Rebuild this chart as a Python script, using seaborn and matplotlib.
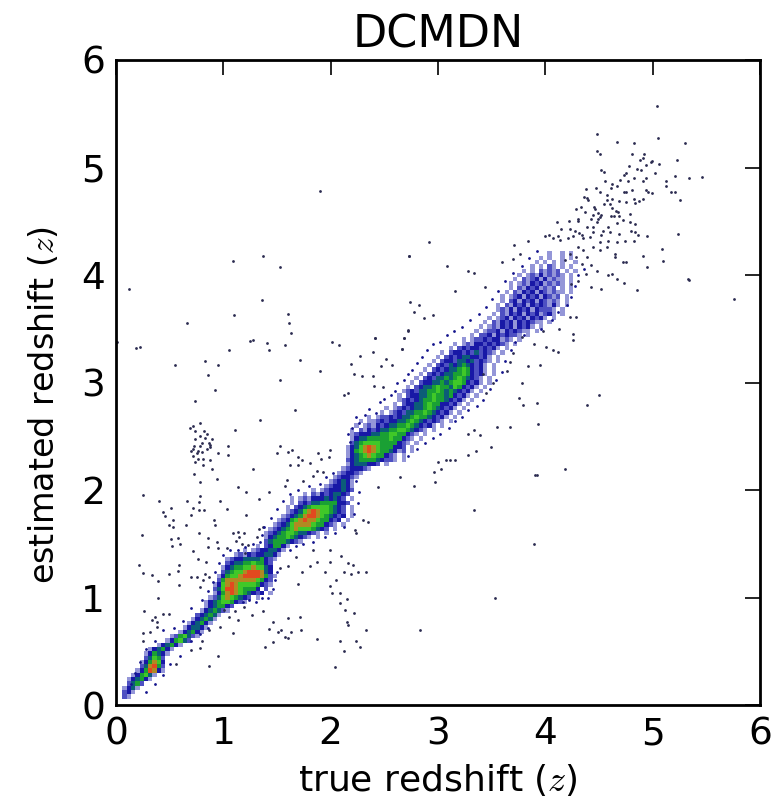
import numpy as np
import matplotlib
matplotlib.use('Agg')
import matplotlib.pyplot as plt
from matplotlib.colors import ListedColormap
import seaborn as sns

# density ridge: one entry per row, rows go from z=0.08 upward in 0.04 steps
# start = first column (x = col * 0.04), cells = density level per column
ROW_START = [2, 2, 2, 3, 3, 4, 5, 6, 6, 7, 7, 8, 10, 12, 13, 15, 16, 17, 18, 19, 20, 21, 21,
             22, 23, 23, 23, 24, 24, 25, 25, 26, 26, 28, 30, 33, 35, 35, 35, 36, 37, 38, 39, 40, 40,
             41, 41, 44, 46, 49, 50, 51, 52, 53, 54, 54, 54, 54, 54, 55, 55, 55, 55, 56, 57, 59,
             62, 63, 65, 66, 66, 67, 68, 69, 70, 71, 72, 73, 74, 75, 76, 78, 79, 81, 83, 84, 85,
             86, 87, 88, 89, 89, 90, 90, 91, 92, 92, 93, 94, 95, 97, 98, 99, 100]
ROW_CELLS = [
    "21", "231", "1341", "2452", "134531", "135641", "1358731", "247852", "135763", "24652",
    "135431", "134531", "134531", "135642", "1256421", "134531", "134431", "134531", "134541",
    "234541", "1345421", "1345532", "1345665321",
    "124676543201", "13578765432301", "2468876555302", "13678766665321", "2577777776532",
    "13566788887521", "245667888743", "134556676643", "23445565532", "123344445321",
    "12132334431", "1012334431", "10235531", "245554321", "1345565432101", "123456654432101",
    "1234567666543201", "12346777765532101", "12356787765532301", "12345788765432301",
    "1234678766543201", "1023456666543201", "10232445555332", "101213334343201",
    "10213234432", "1012333432", "1233431", "123431", "123321", "123321", "1233321",
    "1344433201", "23455554322101", "13456765532101", "1356787655431201", "1346787655533201",
    "2456666555532101", "13445555565532101", "123334455665532101", "10213234455665432101",
    "101213234455654323101", "1011232334456543232101", "101223234456554323101",
    "1012324455654323101", "1012323445654323101", "102334456553323101", "123234556554323101",
    "1023344565545323101", "1232445565454323101", "1023445655465323101", "1023344545665323101",
    "102324454565432101", "102323445565323101", "10232344565323101", "1023243454323101",
    "1023324434232101", "102323443323101", "102332324232101", "10232332323101",
    "101213323232101", "10122323312101", "10223132322101", "101223132321101", "101213231323101",
    "1021323132321101", "1012313231323101", "10213231323123101", "1213132313222101",
    "10213231323213101", "1023132313212101", "1012313231321201", "1021323132121101",
    "102132312120101", "101213231212101", "10212313121101", "1012131212101", "1010212120101",
    "1010210101", "1010101001", "10100101", "01001010",
]
LEVEL_COLORS = ['#ffffff', '#9496d8', '#4e50c2', '#1818a6', '#0c5c78', '#1aa034', '#40c828',
                '#b08a22', '#e2491f']

# single dots outside the dense ridge
TAIL_X = [4.48, 4.67, 4.83, 5.05, 5.30, 5.04, 4.48, 4.51, 4.81, 4.92, 4.88, 4.91, 4.99, 4.98, 5.06,
          5.23, 4.94, 4.85, 4.89, 5.02, 4.78, 4.75, 4.52, 4.55, 4.73, 5.21, 5.46, 5.34, 4.83, 4.94,
          4.70, 4.91, 4.56, 4.62, 4.77, 5.12, 5.12, 4.67, 4.61, 4.47, 4.38, 4.51, 4.73, 4.75, 4.81,
          4.94, 4.96, 5.17, 5.21, 4.99, 4.36, 4.39, 4.40, 4.57, 4.57, 4.62, 4.83, 4.87, 4.91, 5.25,
          4.69, 4.55, 4.60, 4.84, 4.75, 4.45, 4.33, 4.29, 4.37, 4.46, 4.49, 4.62, 4.66, 4.68, 4.79,
          4.52, 4.44, 4.51, 4.61, 4.64, 4.69, 4.30, 4.30, 4.11, 4.22, 4.43, 4.49, 4.72, 4.67, 4.48,
          4.79, 4.84, 4.58, 4.44, 4.39, 4.15, 4.23, 4.28, 4.31, 4.34, 4.44, 4.54, 4.60, 4.80, 4.84,
          4.69, 5.24, 4.95, 4.86, 4.03, 4.00, 4.07, 4.12, 4.14, 4.21, 4.26, 4.35, 4.42, 4.52, 4.67,
          4.58, 4.51, 4.74, 4.83, 3.84, 3.71, 5.09, 4.91, 5.10, 4.65, 4.65, 4.72, 4.75, 4.95, 4.58,
          4.62, 4.67, 4.73, 5.33, 4.43, 4.52, 4.85, 4.48, 4.43, 4.39, 4.51, 4.57, 4.44, 4.35, 4.30,
          4.23, 4.18, 4.29, 4.34, 4.38, 4.30, 4.24, 3.76, 3.60, 3.70]
TAIL_Y = [5.31, 5.24, 5.23, 5.27, 5.23, 5.57, 5.15, 5.13, 5.13, 5.13, 5.07, 5.09, 5.06, 5.05, 5.03,
          5.07, 5.02, 4.99, 4.98, 4.95, 5.01, 4.95, 4.98, 4.96, 4.93, 4.92, 4.91, 4.90, 4.90, 4.90,
          4.88, 4.87, 4.87, 4.85, 4.87, 4.87, 4.83, 4.83, 4.81, 4.81, 4.80, 4.77, 4.77, 4.77, 4.79,
          4.79, 4.77, 4.77, 4.77, 4.76, 4.73, 4.72, 4.70, 4.74, 4.70, 4.71, 4.71, 4.69, 4.71, 4.70,
          4.69, 4.66, 4.66, 4.67, 4.68, 4.63, 4.63, 4.61, 4.59, 4.61, 4.58, 4.62, 4.60, 4.59, 4.57,
          4.56, 4.56, 4.54, 4.55, 4.55, 4.55, 4.52, 4.50, 4.49, 4.50, 4.52, 4.52, 4.51, 4.48, 4.49,
          4.49, 4.47, 4.45, 4.45, 4.45, 4.43, 4.43, 4.41, 4.39, 4.37, 4.40, 4.41, 4.40, 4.41, 4.40,
          4.38, 4.38, 4.36, 4.37, 4.37, 4.36, 4.34, 4.36, 4.33, 4.34, 4.36, 4.34, 4.35, 4.37, 4.31,
          4.32, 4.31, 4.32, 4.32, 4.32, 4.28, 4.24, 4.18, 4.13, 4.20, 4.17, 4.12, 4.12, 4.07, 4.00,
          4.01, 3.96, 3.93, 3.96, 3.89, 3.87, 3.86, 4.04, 4.09, 4.17, 4.23, 4.26, 4.26, 4.23, 4.26,
          4.20, 4.14, 4.17, 4.10, 4.01, 3.94, 3.92, 4.20, 4.12, 4.15]

UPPER_X = [0.25, 0.40, 0.44, 0.51, 0.46, 0.66, 0.78, 0.77, 0.72, 0.82, 0.77, 0.70, 0.53, 0.49, 0.53,
           0.65, 0.24, 0.58, 0.51, 0.60, 0.52, 0.77, 0.86, 0.92, 0.91, 0.97, 1.03, 1.14, 1.21, 1.43,
           1.33, 1.21, 1.28, 0.73, 0.78, 0.94, 0.81, 0.89, 0.74, 0.88, 0.95, 1.04, 1.04, 0.81, 0.86,
           0.94, 0.72, 0.76, 0.84, 0.21, 0.59, 0.58, 0.25, 0.34, 0.49, 0.39, 0.59, 0.70, 0.75, 0.83,
           0.87, 0.81, 0.39, 0.78, 0.26, 0.36, 0.34, 0.38, 0.49, 0.44, 0.38, 0.25, 0.32, 0.25,
           1.09, 1.14, 1.19, 1.12, 1.17, 1.23, 1.03, 1.20, 1.31, 1.37, 1.33, 1.15, 0.95,
           1.50, 1.53, 1.60, 1.64, 1.70, 1.73, 1.62, 1.70, 1.81, 1.88, 1.91, 1.99, 1.98, 1.87, 1.84,
           1.93, 1.59, 1.57, 1.74,
           1.90, 1.09, 1.37, 1.53, 2.73, 0.12, 1.36, 1.10, 1.60, 0.66, 1.61, 1.63, 2.72, 2.41, 2.68,
           1.28, 1.41, 2.01, 0.19, 1.05, 2.66, 0.01, 0.22, 0.55, 0.83, 0.86, 0.95, 1.25, 1.43, 1.57,
           1.71, 1.90, 2.08, 1.53, 1.67, 1.34, 1.11, 0.92, 0.74,
           0.69, 0.72, 0.74, 0.78, 0.82, 0.85, 0.74, 0.78, 0.80, 0.83, 0.88, 0.72, 0.73, 0.75, 0.76,
           0.72, 0.70, 0.78, 0.80, 0.85, 0.88, 0.87, 0.89, 0.76]
UPPER_Y = [1.95, 1.90, 1.80, 1.83, 1.76, 1.90, 1.94, 1.89, 1.83, 1.81, 1.81, 1.77, 1.72, 1.67, 1.66,
           1.67, 1.58, 1.55, 1.54, 1.50, 1.48, 1.60, 1.55, 1.67, 1.72, 1.90, 1.82, 2.03, 1.98, 1.98,
           1.92, 1.77, 2.20, 2.15, 2.07, 2.10, 2.23, 2.20, 2.26, 2.28, 2.34, 2.41, 2.33, 2.29, 1.47,
           1.52, 1.43, 1.36, 1.33, 1.30, 1.30, 1.25, 1.23, 1.21, 1.22, 1.15, 1.12, 1.19, 1.19, 1.22,
           1.19, 1.16, 1.00, 1.10, 0.87, 0.82, 0.79, 0.77, 0.85, 0.85, 0.73, 0.67, 0.68, 0.60,
           1.60, 1.61, 1.60, 1.53, 1.50, 1.49, 1.46, 1.41, 1.56, 1.66, 1.64, 1.56, 1.46,
           2.34, 2.41, 2.35, 2.37, 2.31, 2.28, 2.23, 2.23, 2.25, 2.34, 2.29, 2.37, 2.31, 2.18, 2.13,
           2.17, 2.09, 2.04, 2.08,
           4.78, 4.13, 4.18, 4.07, 4.18, 3.87, 3.77, 3.63, 3.64, 3.55, 3.55, 3.46, 3.48, 3.41, 3.41,
           3.40, 3.37, 3.38, 3.32, 3.30, 3.31, 3.38, 3.33, 3.16, 3.20, 3.07, 3.16, 3.39, 3.30, 3.35,
           3.21, 3.11, 3.35, 3.02, 2.74, 2.65, 2.56, 2.93, 2.83,
           2.58, 2.60, 2.55, 2.62, 2.55, 2.52, 2.47, 2.50, 2.44, 2.48, 2.42, 2.38, 2.41, 2.34, 2.36,
           2.32, 2.36, 2.41, 2.35, 2.38, 2.40, 2.44, 2.47, 2.29]

LOWER_X = [1.43, 1.51, 1.46, 1.54, 1.57, 1.60, 1.63, 1.72, 1.60, 1.71, 1.39, 1.46, 1.87, 2.09, 2.12,
           2.04, 2.27, 2.24, 2.33, 2.16, 2.15, 2.22, 2.13, 2.09, 2.15, 2.09, 2.01, 1.99, 2.05, 2.12,
           2.19, 2.25, 2.21, 2.33, 2.16, 2.10, 1.99, 1.95, 1.87, 1.81, 1.73, 1.70, 1.60, 1.53, 1.99,
           1.84, 1.68, 2.30, 2.35, 2.24, 2.23, 1.19, 1.11, 1.01, 1.27, 1.37, 1.14, 0.97, 1.09, 0.95,
           0.87, 0.78, 0.70, 0.56, 0.80, 0.87, 1.05,
           3.53, 3.89, 3.34, 2.83, 4.39, 3.92, 4.18, 4.50, 5.76, 5.34,
           2.92, 2.73, 3.08, 3.28, 3.34, 3.16, 3.44, 2.74, 2.82, 2.78, 2.87, 2.95, 2.72, 2.41, 2.68,
           2.66, 2.27, 2.39, 2.19, 2.47, 2.52, 2.57, 2.22, 2.29, 2.39, 2.12, 2.16, 2.40, 2.49,
           4.01, 4.07, 4.12, 4.26, 4.26, 4.13, 4.23, 4.29, 3.95, 3.84, 3.78, 3.75, 3.92, 3.79, 3.93,
           3.67, 3.55, 3.49, 3.39, 3.34, 3.28, 3.35, 3.28, 3.16, 3.11, 3.07, 3.00, 3.03, 2.96, 3.90,
           2.65, 2.78, 2.97, 2.44, 3.42, 3.51, 3.45, 3.64, 3.70, 3.67, 3.78, 3.89, 3.98]
LOWER_Y = [0.71, 0.68, 0.77, 0.70, 0.63, 0.62, 0.68, 0.70, 0.81, 0.82, 0.54, 0.59, 0.61, 0.60, 0.50,
           0.35, 0.54, 0.60, 0.70, 0.74, 0.77, 0.86, 0.88, 0.95, 0.99, 1.04, 1.04, 1.11, 1.16, 1.24,
           1.22, 1.24, 1.30, 1.24, 1.32, 1.39, 1.33, 1.24, 1.33, 1.29, 1.24, 1.13, 1.29, 1.27, 1.44,
           1.44, 1.38, 1.72, 1.70, 1.60, 1.63, 0.91, 0.87, 0.88, 0.84, 0.87, 0.79, 0.73, 0.67, 0.46,
           0.36, 0.53, 0.51, 0.38, 0.60, 0.70, 0.82,
           1.00, 1.50, 1.81, 0.70, 2.79, 2.14, 2.20, 2.88, 3.78, 3.95,
           4.31, 4.18, 4.08, 4.04, 4.02, 3.85, 3.89, 3.75, 3.72, 3.66, 3.60, 3.63, 3.49, 3.41, 3.41,
           3.31, 3.25, 3.28, 3.17, 3.15, 3.22, 3.16, 3.08, 3.06, 3.06, 2.88, 2.90, 2.97, 2.96,
           3.33, 3.30, 3.28, 3.45, 3.40, 3.50, 3.61, 3.61, 3.16, 3.15, 3.00, 2.86, 2.81, 2.79, 2.61,
           2.59, 2.59, 2.40, 2.51, 2.56, 2.52, 2.36, 2.33, 2.28, 2.28, 2.28, 2.26, 2.20, 2.17, 2.14,
           2.12, 2.04, 2.07, 2.03, 3.08, 3.00, 2.90, 3.11, 3.27, 3.19, 3.42, 3.36, 3.48]

# dots sitting on the speckled edge of the ridge
EDGE_X = [2.18, 2.16, 2.20, 2.26, 2.24, 2.32, 2.36, 2.42, 2.46, 2.50, 2.56, 2.60, 2.62, 2.68, 2.72,
          2.76, 2.80, 2.85, 2.90, 2.95, 3.02, 3.08, 3.15, 3.22, 3.30, 3.38, 3.45, 3.50, 3.56, 3.62,
          3.70, 3.78, 3.85, 3.92,
          2.72, 2.80, 2.88, 2.95, 3.02, 3.10, 3.16, 3.22, 3.28, 3.36, 3.42, 3.48, 3.54, 3.60, 3.62,
          3.68, 3.72, 3.80, 3.96, 4.06, 4.12, 4.20, 4.24, 4.28, 4.30, 4.36,
          0.86, 0.90, 0.92, 0.96, 1.00, 1.06, 1.14, 1.20, 1.28, 1.34, 1.42, 1.36, 1.30, 1.24, 1.18,
          1.46, 1.48, 1.50, 1.36, 1.38, 1.44, 1.50, 1.56, 1.62, 1.70, 1.80, 1.90, 1.96, 2.02, 2.24,
          2.26, 2.25, 2.22, 2.12, 2.04, 1.95, 1.84, 1.74, 1.68, 1.62,
          0.14, 0.18, 0.22, 0.28, 0.36, 0.44, 0.54, 0.62, 0.70, 0.80, 0.86, 0.78, 0.70, 0.60, 0.50,
          0.44, 0.36, 0.28]
EDGE_Y = [2.45, 2.52, 2.58, 2.62, 2.68, 2.70, 2.75, 2.72, 2.82, 2.85, 2.88, 2.92, 3.00, 3.02, 3.08,
          3.12, 3.18, 3.24, 3.30, 3.36, 3.38, 3.44, 3.48, 3.52, 3.58, 3.64, 3.70, 3.78, 3.85, 3.94,
          4.02, 4.08, 4.16, 4.22,
          2.32, 2.38, 2.44, 2.48, 2.52, 2.58, 2.64, 2.68, 2.74, 2.78, 2.84, 2.94, 3.02, 3.10, 3.20,
          3.30, 3.38, 3.44, 3.50, 3.58, 3.66, 3.72, 3.80, 3.90, 4.00, 4.06,
          1.06, 1.14, 1.24, 1.32, 1.40, 1.44, 1.44, 1.47, 1.50, 1.52, 1.00, 1.00, 0.96, 0.98, 0.96,
          1.08, 1.16, 1.24, 1.58, 1.66, 1.74, 1.82, 1.90, 1.96, 2.00, 2.04, 2.06, 2.12, 2.16, 2.08,
          1.98, 1.88, 1.78, 1.66, 1.60, 1.56, 1.52, 1.50, 1.48, 1.44,
          0.20, 0.30, 0.40, 0.52, 0.60, 0.70, 0.72, 0.78, 0.90, 0.98, 0.72, 0.66, 0.60, 0.46, 0.38,
          0.28, 0.20, 0.12]

TICKS = [0, 1, 2, 3, 4, 5, 6]

sns.set_style('white')
plt.rcParams['font.family'] = ['DejaVu Sans']
plt.rcParams['mathtext.fontset'] = 'cm'
plt.rcParams['text.color'] = 'black'
plt.rcParams['axes.labelcolor'] = 'black'

# unpack the rows into one weighted point per cell
cell_x, cell_y, cell_w = [], [], []
for r, (start, cells) in enumerate(zip(ROW_START, ROW_CELLS)):
    for c, level in enumerate(cells):
        cell_x.append((start + c) * 0.04)
        cell_y.append(0.08 + r * 0.04)
        cell_w.append(int(level))

fig = plt.figure(figsize=(7.76, 7.99), dpi=100)
ax = fig.add_axes([116 / 776, 1 - 705 / 799, 644 / 776, 645 / 799])

edges = (np.arange(0, 152) - 0.5) * 0.04
sns.histplot(x=cell_x, y=cell_y, weights=cell_w, bins=[edges, edges], thresh=0,
             cmap=ListedColormap(LEVEL_COLORS), ax=ax, zorder=1)

sns.scatterplot(x=TAIL_X + UPPER_X + LOWER_X, y=TAIL_Y + UPPER_Y + LOWER_Y, s=4,
                color='#2b2b50', linewidth=0, ax=ax, zorder=2)
sns.scatterplot(x=EDGE_X, y=EDGE_Y, s=4, color='#14148c', linewidth=0, ax=ax, zorder=2)

ax.set_xlim(0, 6)
ax.set_ylim(0, 6)
ax.set_xticks(TICKS)
ax.set_yticks(TICKS)
ax.tick_params(direction='in', length=11, width=1.2, top=True, right=True,
               labelsize=27, colors='black', pad=8)
for side in ax.spines.values():
    side.set_linewidth(2)
    side.set_color('black')

ax.set_title('DCMDN', fontsize=32, pad=9, color='black')
ax.set_xlabel('true redshift ($z$)', fontsize=26, labelpad=7)
ax.set_ylabel('estimated redshift ($z$)', fontsize=24)
ax.yaxis.set_label_coords(-0.085, 0.465)

fig.savefig('out.png', dpi=100)
